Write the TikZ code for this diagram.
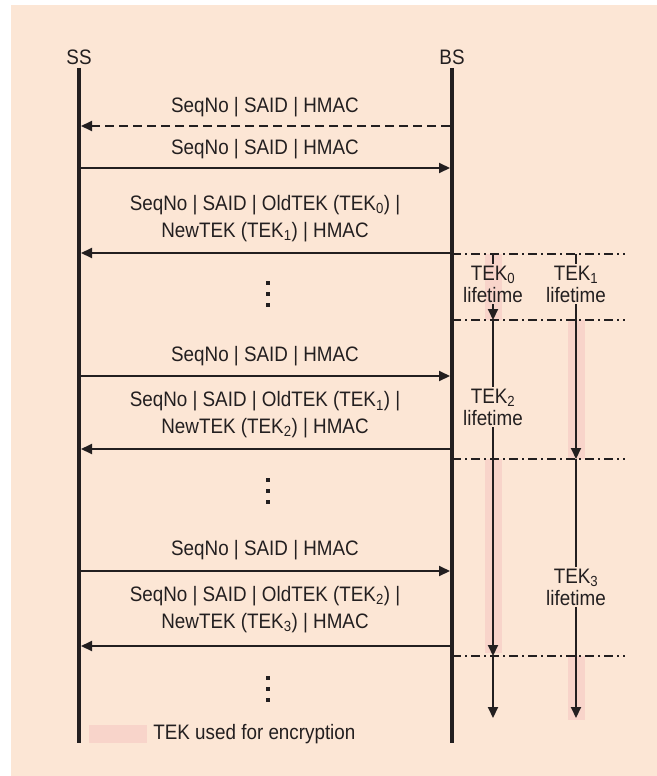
\documentclass[tikz,border=0pt]{standalone}
\usepackage{fontspec}
\setmainfont{Liberation Sans}[FakeStretch=0.9]
\usetikzlibrary{arrows.meta, positioning, calc, backgrounds}

\definecolor{bgcol}{HTML}{FCE6D5}
\definecolor{tekcol}{HTML}{F8D4CA}
\definecolor{ink}{HTML}{231F20}
\newcommand{\tek}[1]{TEK\textsubscript{#1}}

\begin{document}
\begin{tikzpicture}[
    x=1bp, y=-1bp,
    every node/.style={text=ink, font=\fontsize{21}{22}\selectfont},
    lbl/.style={align=center, font=\fontsize{21}{27}\selectfont},
    lifeline/.style={draw=ink, line width=4bp},
    msg/.style={draw=ink, line width=2bp, shorten <=2bp, shorten >=2bp,
      -{Triangle[length=11bp, width=10bp]}},
    nack/.style={msg, dash pattern=on 9bp off 5bp},
    cut/.style={draw=ink, line width=2bp, dash pattern=on 9bp off 4bp on 2bp off 4bp},
    tekspan/.style={align=center, inner sep=2bp, font=\fontsize{21}{22}\selectfont},
    tekline/.style={draw=ink, line width=2bp},
    tekarr/.style={tekline, -{Triangle[length=11bp, width=10bp]}},
    used/.style={fill=tekcol, draw=none},
  ]

  \useasboundingbox (0,0) rectangle (657,776);

  % Stations and their lifelines
  \node (ss) at (79,57) {SS};
  \node (bs) at (452,57) {BS};
  \coordinate (bottom) at (265,743);
  \draw[lifeline] (ss.south) -- (ss |- bottom);
  \draw[lifeline] (bs.south) -- (bs |- bottom);

  % Rekey boundaries
  \coordinate (c1) at (625,254);
  \coordinate (c2) at (625,320);
  \coordinate (c3) at (625,459);
  \coordinate (c4) at (625,656);
  \coordinate (cend) at (625,718);

  % TEK lifetime labels
  \node[tekspan] (tek0) at (493,284) {\tek{0}\\lifetime};
  \node[tekspan] (tek1) at (576,284) {\tek{1}\\lifetime};
  \node[tekspan] (tek2) at (493,407) {\tek{2}\\lifetime};
  \node[tekspan] (tek3) at (576,587) {\tek{3}\\lifetime};

  % TEK used for encryption (behind everything)
  \begin{scope}[on background layer]
    \fill[bgcol] (11,5) rectangle (657,776);
    \fill[used] ($(tek0 |- c1)+(-8.5,0)$) rectangle ($(tek0 |- c2)+(8.5,0)$);
    \fill[used] ($(tek1 |- c2)+(-8.5,0)$) rectangle ($(tek1 |- c3)+(8.5,0)$);
    \fill[used] ($(tek2 |- c3)+(-8.5,0)$) rectangle ($(tek2 |- c4)+(8.5,-3)$);
    \fill[used] ($(tek3 |- c4)+(-8.5,0)$) rectangle ($(tek3 |- cend)+(8.5,2)$);
  \end{scope}

  \draw[cut] (bs |- c1) -- (c1);
  \draw[cut] (bs |- c2) -- (c2);
  \draw[cut] (bs |- c3) -- (c3);
  \draw[cut] (bs |- c4) -- (c4);

  % Lifetimes
  \draw[tekline] (tek0 |- c1) -- (tek0.north);
  \draw[tekarr] (tek0.south) -- (tek0 |- c2);
  \draw[tekline] (tek0 |- c2) -- (tek2.north);
  \draw[tekarr] (tek2.south) -- (tek2 |- c4);
  \draw[tekarr] (tek2 |- c4) -- (tek2 |- cend);
  \draw[tekline] (tek1 |- c1) -- (tek1.north);
  \draw[tekarr] (tek1.south) -- (tek1 |- c3);
  \draw[tekline] (tek1 |- c3) -- (tek3.north);
  \draw[tekarr] (tek3.south) -- (tek3 |- cend);

  % Messages
  \coordinate (m1) at (265,126);
  \coordinate (m2) at (265,168);
  \coordinate (m3) at (265,253);
  \coordinate (m4) at (265,376);
  \coordinate (m5) at (265,449);
  \coordinate (m6) at (265,571);
  \coordinate (m7) at (265,646);

  \node[lbl] (l1) at (265,107) {SeqNo | SAID | HMAC};
  \draw[nack] (bs |- m1) -- (ss |- m1);
  \node[lbl] (l2) at (265,149) {SeqNo | SAID | HMAC};
  \draw[msg] (ss |- m2) -- (bs |- m2);
  \node[lbl] (l3) at (265,218.5) {SeqNo | SAID | OldTEK (\tek{0}) |\\NewTEK (\tek{1}) | HMAC};
  \draw[msg] (bs |- m3) -- (ss |- m3);

  \node[lbl] (l4) at (265,356) {SeqNo | SAID | HMAC};
  \draw[msg] (ss |- m4) -- (bs |- m4);
  \node[lbl] (l5) at (265,415) {SeqNo | SAID | OldTEK (\tek{1}) |\\NewTEK (\tek{2}) | HMAC};
  \draw[msg] (bs |- m5) -- (ss |- m5);

  \node[lbl] (l6) at (265,550) {SeqNo | SAID | HMAC};
  \draw[msg] (ss |- m6) -- (bs |- m6);
  \node[lbl] (l7) at (265,609.5) {SeqNo | SAID | OldTEK (\tek{2}) |\\NewTEK (\tek{3}) | HMAC};
  \draw[msg] (bs |- m7) -- (ss |- m7);

  % Vertical ellipses between exchanges
  \coordinate (g1) at (268,294);
  \coordinate (g2) at (268,491);
  \coordinate (g3) at (268,689);
  \foreach \g in {g1,g2,g3}
    \foreach \d in {-11,0,11}
      \fill[ink] ($(\g)+(-2,\d-2)$) rectangle ++(4,4);

  % Legend
  \node[used, minimum width=58bp, minimum height=18bp, inner sep=0pt] (key) at (118,734) {};
  \node[right=6bp of key, inner sep=0pt] (keytext) {TEK used for encryption};

\end{tikzpicture}
\end{document}
